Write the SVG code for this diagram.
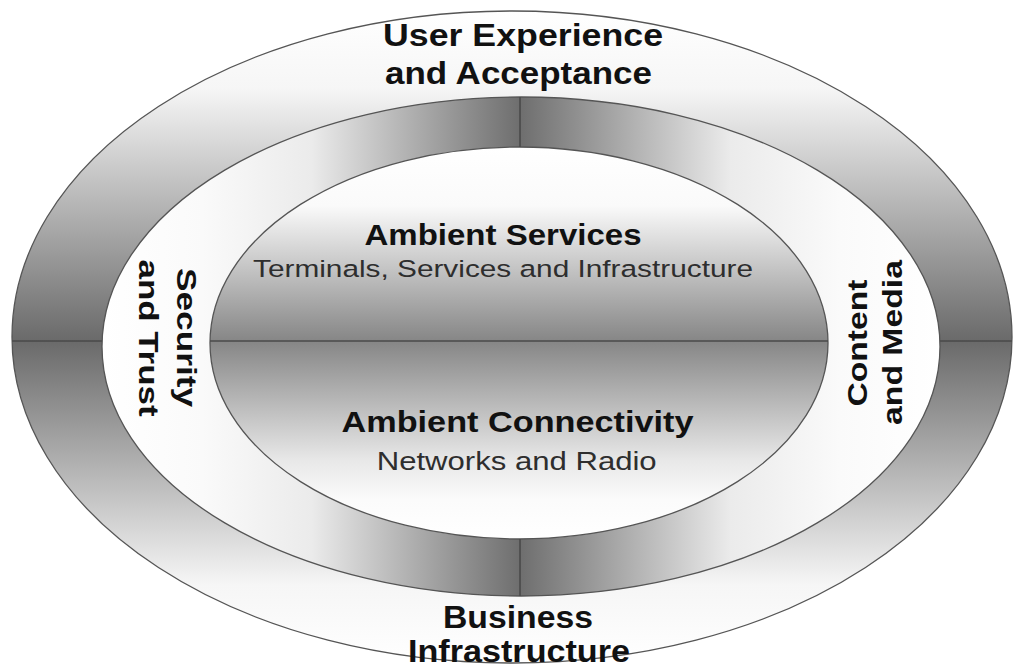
<svg xmlns="http://www.w3.org/2000/svg" width="1013" height="669" viewBox="0 0 1013 669">
  <style>
    .ring { stroke: #555; stroke-width: 1.3; }
    .div { stroke: #4a4a4a; stroke-width: 1.6; fill: none; }
    .head { font-family: "Liberation Sans", Arial, sans-serif; font-weight: bold; fill: #111; text-anchor: middle; }
    .sub { font-family: "Liberation Sans", Arial, sans-serif; fill: #2e2e2e; text-anchor: middle; }
  </style>
  <defs>
    <linearGradient id="gOuter" gradientUnits="userSpaceOnUse" x1="0" y1="10" x2="0" y2="663">
      <stop offset="0" stop-color="#ffffff"/>
      <stop offset="0.12" stop-color="#f6f6f6"/>
      <stop offset="0.507" stop-color="#6a6a6a"/>
      <stop offset="0.88" stop-color="#f6f6f6"/>
      <stop offset="1" stop-color="#ffffff"/>
    </linearGradient>
    <linearGradient id="gMiddle" gradientUnits="userSpaceOnUse" x1="102" y1="0" x2="940" y2="0">
      <stop offset="0" stop-color="#ffffff"/>
      <stop offset="0.12" stop-color="#fafafa"/>
      <stop offset="0.25" stop-color="#ebebeb"/>
      <stop offset="0.499" stop-color="#6e6e6e"/>
      <stop offset="0.75" stop-color="#ebebeb"/>
      <stop offset="0.88" stop-color="#fafafa"/>
      <stop offset="1" stop-color="#ffffff"/>
    </linearGradient>
    <linearGradient id="gInner" gradientUnits="userSpaceOnUse" x1="0" y1="147" x2="0" y2="539">
      <stop offset="0" stop-color="#ffffff"/>
      <stop offset="0.15" stop-color="#fafafa"/>
      <stop offset="0.495" stop-color="#868686"/>
      <stop offset="0.8" stop-color="#e8e8e8"/>
      <stop offset="0.9" stop-color="#fbfbfb"/>
      <stop offset="1" stop-color="#ffffff"/>
    </linearGradient>
  </defs>

  <g id="outer-ring">
    <ellipse class="ring" cx="512" cy="337" rx="500" ry="326" fill="url(#gOuter)"/>
  </g>
  <g id="middle-ring">
    <ellipse class="ring" cx="521" cy="346.5" rx="419" ry="249.5" fill="url(#gMiddle)"/>
  </g>
  <g id="inner-core">
    <ellipse class="ring" cx="519" cy="343" rx="309" ry="196" fill="url(#gInner)"/>
  </g>

  <g id="connectors">
    <line class="div" x1="12" y1="341" x2="102" y2="341"/>
    <line class="div" x1="940" y1="341" x2="1012" y2="341"/>
    <line class="div" x1="210" y1="341" x2="828" y2="341"/>
    <line class="div" x1="520" y1="97" x2="520" y2="147"/>
    <line class="div" x1="520" y1="539" x2="520" y2="596"/>
  </g>

  <g id="user-experience">
    <text class="head" x="523" y="46" font-size="32" textLength="280" lengthAdjust="spacingAndGlyphs">User Experience</text>
    <text class="head" x="518.5" y="84" font-size="32" textLength="267" lengthAdjust="spacingAndGlyphs">and Acceptance</text>
  </g>
  <g id="business-infrastructure">
    <text class="head" x="518" y="628" font-size="32" textLength="150" lengthAdjust="spacingAndGlyphs">Business</text>
    <text class="head" x="519" y="662" font-size="32" textLength="222" lengthAdjust="spacingAndGlyphs">Infrastructure</text>
  </g>
  <g id="security-trust">
    <text class="head" transform="translate(177,337.5) rotate(90)" x="0" y="0" font-size="28" textLength="139" lengthAdjust="spacingAndGlyphs">Security</text>
    <text class="head" transform="translate(139,338) rotate(90)" x="0" y="0" font-size="28" textLength="157" lengthAdjust="spacingAndGlyphs">and Trust</text>
  </g>
  <g id="content-media">
    <text class="head" transform="translate(867,343) rotate(-90)" x="0" y="0" font-size="28" textLength="127" lengthAdjust="spacingAndGlyphs">Content</text>
    <text class="head" transform="translate(902,342.5) rotate(-90)" x="0" y="0" font-size="28" textLength="165" lengthAdjust="spacingAndGlyphs">and Media</text>
  </g>
  <g id="ambient-services">
    <text class="head" x="503" y="245" font-size="30" textLength="277" lengthAdjust="spacingAndGlyphs">Ambient Services</text>
    <text class="sub" x="503" y="277" font-size="24.5" textLength="500" lengthAdjust="spacingAndGlyphs">Terminals, Services and Infrastructure</text>
  </g>
  <g id="ambient-connectivity">
    <text class="head" x="517.5" y="432" font-size="30" textLength="352" lengthAdjust="spacingAndGlyphs">Ambient Connectivity</text>
    <text class="sub" x="516.7" y="470" font-size="25" textLength="280" lengthAdjust="spacingAndGlyphs">Networks and Radio</text>
  </g>
</svg>
